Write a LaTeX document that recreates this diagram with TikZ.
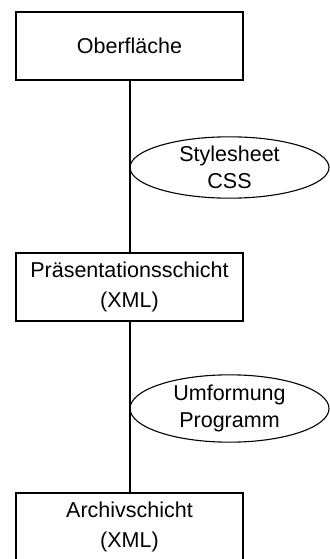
\documentclass[tikz,border=0pt]{standalone}
\usepackage{fontspec}
\setmainfont{Liberation Sans}
\usetikzlibrary{shapes.geometric}
\begin{document}
\begin{tikzpicture}[x=1pt,y=1pt,
  layer/.style={draw,line width=1.1pt,minimum width=227pt,minimum height=68pt,inner sep=0pt,align=center,font=\fontsize{21.5}{30}\selectfont},
  tool/.style={draw,ellipse,line width=1.1pt,minimum width=199pt,minimum height=55pt,inner sep=0pt,align=center,font=\fontsize{21.5}{27.6}\selectfont},
  conn/.style={line width=1.1pt}]
\useasboundingbox (0,0) rectangle (329,-559);
\node[layer] (ob) at (129.5,-46) {Oberfläche};
\node[layer] (pr) at (129.5,-287) {Präsentationsschicht\\(XML)};
\node[layer] (ar) at (129.5,-527) {Archivschicht\\(XML)};
\draw[conn] (ob.south -| 130,0) -- (pr.north -| 130,0);
\draw[conn] (pr.south -| 130,0) -- (ar.north -| 130,0);
\node[tool] (css) at (229.5,-167.5) {Stylesheet\\CSS};
\node[tool,minimum height=63pt] (prog) at (229.5,-408.5) {Umformung\\Programm};
\end{tikzpicture}
\end{document}
